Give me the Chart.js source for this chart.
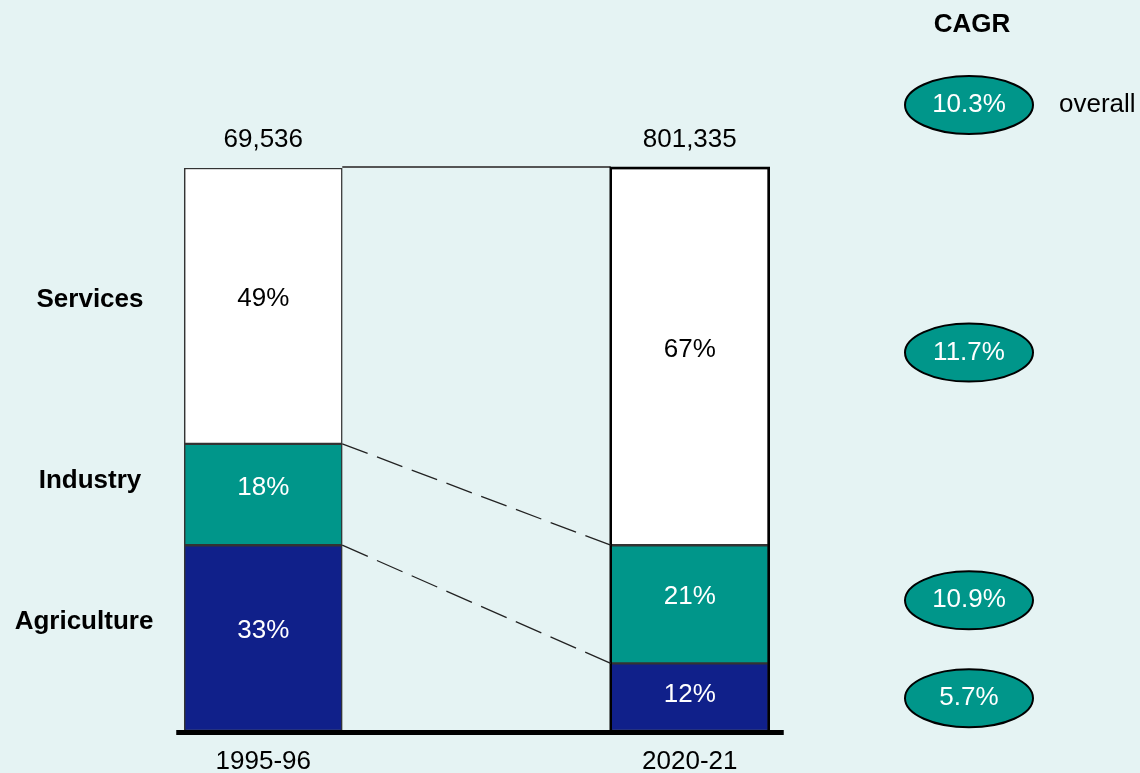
<!DOCTYPE html>
<html>
<head>
<meta charset="utf-8">
<script src="https://cdn.jsdelivr.net/npm/chart.js@4/dist/chart.umd.min.js"></script>
<style>
  html, body { margin: 0; padding: 0; background: #e5f3f3; }
  #wrap { width: 1140px; height: 773px; }
</style>
</head>
<body>
<div id="wrap"><canvas id="mix" width="1140" height="773"></canvas></div>
<script>
// GDP sector mix, two years, shares in % (stacked to 100)
const years = ['1995-96', '2020-21'];
const totals = ['69,536', '801,335'];
const sectors = ['Agriculture', 'Industry', 'Services'];
const agriculture = [33, 12];
const industry = [18, 21];
const services = [49, 67];
const cagr = [5.7, 10.9, 11.7];   // per sector, same order as `sectors`
const cagrOverall = 10.3;

const NAVY = '#10208a', TEAL = '#00968a', INK = '#000';
const font = (size, bold) => `${bold ? 'bold ' : ''}${size}px "Liberation Sans", Arial, sans-serif`;

// dashed line that starts and ends on a dash
function dashed(ctx, x0, y0, x1, y1, n, gap) {
  const len = Math.hypot(x1 - x0, y1 - y0);
  ctx.setLineDash([(len - (n - 1) * gap) / n, gap]);
  ctx.beginPath(); ctx.moveTo(x0, y0); ctx.lineTo(x1, y1); ctx.stroke();
  ctx.setLineDash([]);
}

// frame, connectors, labels and CAGR bubbles
const decor = {
  id: 'decor',
  afterDatasetsDraw(chart) {
    const { ctx, chartArea: a } = chart;
    const metas = chart.data.datasets.map((_, i) => chart.getDatasetMeta(i).data);
    const box = (el) => ({ l: el.x - el.width / 2, r: el.x + el.width / 2, t: Math.min(el.y, el.base), b: Math.max(el.y, el.base) });
    const b1 = box(metas[2][0]), b2 = box(metas[2][1]);
    const base = box(metas[0][0]).b;

    ctx.save();
    // grey top link between the two bars
    ctx.strokeStyle = '#555'; ctx.lineWidth = 2;
    ctx.beginPath(); ctx.moveTo(b1.r, b1.t - 1); ctx.lineTo(b2.l, b1.t - 1); ctx.stroke();

    // heavier outline round the later bar
    ctx.strokeStyle = INK; ctx.lineWidth = 2.5;
    ctx.beginPath();
    ctx.moveTo(b2.l, base); ctx.lineTo(b2.l, b2.t); ctx.lineTo(b2.r, b2.t); ctx.lineTo(b2.r, base);
    ctx.stroke();

    // dashed connectors at the segment boundaries
    ctx.strokeStyle = '#222'; ctx.lineWidth = 1.3;
    [0, 1].forEach((d) => {
      const s = box(metas[d][0]), e = box(metas[d][1]);
      dashed(ctx, s.r, s.t, e.l, e.t, 8, 10);
    });

    // baseline
    ctx.fillStyle = INK;
    ctx.fillRect(b1.l - 8, base - 1, (b2.r + 15) - (b1.l - 8), 5);

    ctx.textAlign = 'center'; ctx.textBaseline = 'middle';
    // totals and years
    ctx.font = font(26);
    [b1, b2].forEach((b, i) => {
      const cx = (b.l + b.r) / 2;
      ctx.fillStyle = INK;
      ctx.fillText(totals[i], cx, b.t - 28);
      ctx.fillText(years[i], cx, base + 31);
    });

    // share labels inside segments
    metas.forEach((bars, d) => {
      bars.forEach((el, i) => {
        const b = box(el);
        const h = b.b - b.t;
        ctx.fillStyle = d === 2 ? INK : '#fff';
        ctx.fillText(chart.data.datasets[d].data[i] + '%', el.x, (b.t + b.b) / 2 - (h < 80 ? 2 : 7));
      });
    });

    // sector names, left
    ctx.font = font(26, true); ctx.fillStyle = INK;
    const nameShift = [-16, -14, -6];
    metas.forEach((bars, d) => {
      const b = box(bars[0]);
      ctx.fillText(sectors[d], 90 - (d === 0 ? 6 : 0), (b.t + b.b) / 2 + nameShift[d]);
    });

    // CAGR column
    const cx = a.right + 66;
    ctx.fillText('CAGR', cx + 3, a.top - 143);
    const bubble = (y, v) => {
      ctx.beginPath(); ctx.ellipse(cx, y, 64, 29, 0, 0, Math.PI * 2);
      ctx.fillStyle = TEAL; ctx.fill();
      ctx.strokeStyle = INK; ctx.lineWidth = 2; ctx.stroke();
      ctx.font = font(26); ctx.fillStyle = '#fff';
      ctx.fillText(v.toFixed(1) + '%', cx, y);
    };
    bubble(a.top - 63, cagrOverall);
    ctx.font = font(26); ctx.fillStyle = INK; ctx.textAlign = 'left';
    ctx.fillText('overall', cx + 90, a.top - 63);
    ctx.textAlign = 'center';
    metas.forEach((bars, d) => {
      const b = box(bars[1]);
      bubble((b.t + b.b) / 2 + (d === 0 ? 1 : -4), cagr[d]);
    });
    ctx.restore();
  },
};

const seg = (label, data, color) => ({
  label, data, backgroundColor: color,
  borderColor: '#333', borderWidth: 1.5, borderSkipped: false,
  barThickness: 158, stack: 'mix',
});

new Chart(document.getElementById('mix'), {
  type: 'bar',
  data: {
    labels: years,
    datasets: [
      seg(sectors[0], agriculture, NAVY),
      seg(sectors[1], industry, TEAL),
      seg(sectors[2], services, '#fff'),
    ],
  },
  options: {
    responsive: false, animation: false,
    layout: { padding: { left: 50, right: 237, top: 168, bottom: 42 } },
    plugins: { legend: { display: false }, tooltip: { enabled: false } },
    scales: {
      x: { stacked: true, display: false },
      y: { stacked: true, display: false, min: 0, max: 100 },
    },
  },
  plugins: [decor],
});
</script>
</body>
</html>
